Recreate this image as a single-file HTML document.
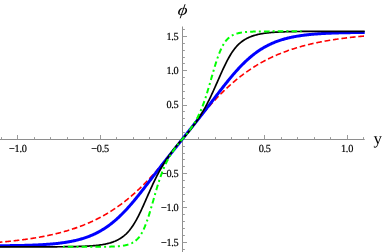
<!DOCTYPE html>
<html><head><meta charset="utf-8"><style>
html,body{margin:0;padding:0;background:#fff;}
body{width:382px;height:252px;overflow:hidden;}
svg{display:block;will-change:transform;}
text{text-rendering:geometricPrecision;}
.tl{font-family:"Liberation Serif",serif;font-size:10.8px;fill:#000;letter-spacing:-0.3px;stroke:#000;stroke-width:0.2px;}
.phi{font-family:"Liberation Serif",serif;font-style:italic;font-size:15.5px;fill:#000;}
.yl{font-family:"Liberation Serif",serif;font-size:17.0px;fill:#000;}
</style></head><body>
<svg width="382" height="252" viewBox="0 0 382 252">
<rect width="382" height="252" fill="#fff"/>
<g shape-rendering="auto">
<line x1="0" y1="139.5" x2="364.7" y2="139.5" stroke="#8e8e8e" stroke-width="1"/>
<line x1="182.5" y1="26.5" x2="182.5" y2="252" stroke="#8e8e8e" stroke-width="1"/>
<line x1="1.5" y1="139.5" x2="1.5" y2="137.1" stroke="#9a9a9a" stroke-width="1"/>
<line x1="17.5" y1="139.5" x2="17.5" y2="135.0" stroke="#9a9a9a" stroke-width="1"/>
<line x1="34.5" y1="139.5" x2="34.5" y2="137.1" stroke="#9a9a9a" stroke-width="1"/>
<line x1="50.5" y1="139.5" x2="50.5" y2="137.1" stroke="#9a9a9a" stroke-width="1"/>
<line x1="67.5" y1="139.5" x2="67.5" y2="137.1" stroke="#9a9a9a" stroke-width="1"/>
<line x1="83.5" y1="139.5" x2="83.5" y2="137.1" stroke="#9a9a9a" stroke-width="1"/>
<line x1="100.5" y1="139.5" x2="100.5" y2="135.0" stroke="#9a9a9a" stroke-width="1"/>
<line x1="116.5" y1="139.5" x2="116.5" y2="137.1" stroke="#9a9a9a" stroke-width="1"/>
<line x1="133.5" y1="139.5" x2="133.5" y2="137.1" stroke="#9a9a9a" stroke-width="1"/>
<line x1="149.5" y1="139.5" x2="149.5" y2="137.1" stroke="#9a9a9a" stroke-width="1"/>
<line x1="166.5" y1="139.5" x2="166.5" y2="137.1" stroke="#9a9a9a" stroke-width="1"/>
<line x1="198.5" y1="139.5" x2="198.5" y2="137.1" stroke="#9a9a9a" stroke-width="1"/>
<line x1="215.5" y1="139.5" x2="215.5" y2="137.1" stroke="#9a9a9a" stroke-width="1"/>
<line x1="231.5" y1="139.5" x2="231.5" y2="137.1" stroke="#9a9a9a" stroke-width="1"/>
<line x1="248.5" y1="139.5" x2="248.5" y2="137.1" stroke="#9a9a9a" stroke-width="1"/>
<line x1="264.5" y1="139.5" x2="264.5" y2="135.0" stroke="#9a9a9a" stroke-width="1"/>
<line x1="281.5" y1="139.5" x2="281.5" y2="137.1" stroke="#9a9a9a" stroke-width="1"/>
<line x1="297.5" y1="139.5" x2="297.5" y2="137.1" stroke="#9a9a9a" stroke-width="1"/>
<line x1="314.5" y1="139.5" x2="314.5" y2="137.1" stroke="#9a9a9a" stroke-width="1"/>
<line x1="330.5" y1="139.5" x2="330.5" y2="137.1" stroke="#9a9a9a" stroke-width="1"/>
<line x1="347.5" y1="139.5" x2="347.5" y2="135.0" stroke="#9a9a9a" stroke-width="1"/>
<line x1="363.5" y1="139.5" x2="363.5" y2="137.1" stroke="#9a9a9a" stroke-width="1"/>
<line x1="182.5" y1="249.5" x2="184.9" y2="249.5" stroke="#9a9a9a" stroke-width="1"/>
<line x1="182.5" y1="242.5" x2="187.0" y2="242.5" stroke="#9a9a9a" stroke-width="1"/>
<line x1="182.5" y1="235.5" x2="184.9" y2="235.5" stroke="#9a9a9a" stroke-width="1"/>
<line x1="182.5" y1="228.5" x2="184.9" y2="228.5" stroke="#9a9a9a" stroke-width="1"/>
<line x1="182.5" y1="221.5" x2="184.9" y2="221.5" stroke="#9a9a9a" stroke-width="1"/>
<line x1="182.5" y1="214.5" x2="184.9" y2="214.5" stroke="#9a9a9a" stroke-width="1"/>
<line x1="182.5" y1="207.5" x2="187.0" y2="207.5" stroke="#9a9a9a" stroke-width="1"/>
<line x1="182.5" y1="201.5" x2="184.9" y2="201.5" stroke="#9a9a9a" stroke-width="1"/>
<line x1="182.5" y1="194.5" x2="184.9" y2="194.5" stroke="#9a9a9a" stroke-width="1"/>
<line x1="182.5" y1="187.5" x2="184.9" y2="187.5" stroke="#9a9a9a" stroke-width="1"/>
<line x1="182.5" y1="180.5" x2="184.9" y2="180.5" stroke="#9a9a9a" stroke-width="1"/>
<line x1="182.5" y1="173.5" x2="187.0" y2="173.5" stroke="#9a9a9a" stroke-width="1"/>
<line x1="182.5" y1="166.5" x2="184.9" y2="166.5" stroke="#9a9a9a" stroke-width="1"/>
<line x1="182.5" y1="159.5" x2="184.9" y2="159.5" stroke="#9a9a9a" stroke-width="1"/>
<line x1="182.5" y1="153.5" x2="184.9" y2="153.5" stroke="#9a9a9a" stroke-width="1"/>
<line x1="182.5" y1="146.5" x2="184.9" y2="146.5" stroke="#9a9a9a" stroke-width="1"/>
<line x1="182.5" y1="132.5" x2="184.9" y2="132.5" stroke="#9a9a9a" stroke-width="1"/>
<line x1="182.5" y1="125.5" x2="184.9" y2="125.5" stroke="#9a9a9a" stroke-width="1"/>
<line x1="182.5" y1="118.5" x2="184.9" y2="118.5" stroke="#9a9a9a" stroke-width="1"/>
<line x1="182.5" y1="111.5" x2="184.9" y2="111.5" stroke="#9a9a9a" stroke-width="1"/>
<line x1="182.5" y1="105.5" x2="187.0" y2="105.5" stroke="#9a9a9a" stroke-width="1"/>
<line x1="182.5" y1="98.5" x2="184.9" y2="98.5" stroke="#9a9a9a" stroke-width="1"/>
<line x1="182.5" y1="91.5" x2="184.9" y2="91.5" stroke="#9a9a9a" stroke-width="1"/>
<line x1="182.5" y1="84.5" x2="184.9" y2="84.5" stroke="#9a9a9a" stroke-width="1"/>
<line x1="182.5" y1="77.5" x2="184.9" y2="77.5" stroke="#9a9a9a" stroke-width="1"/>
<line x1="182.5" y1="70.5" x2="187.0" y2="70.5" stroke="#9a9a9a" stroke-width="1"/>
<line x1="182.5" y1="63.5" x2="184.9" y2="63.5" stroke="#9a9a9a" stroke-width="1"/>
<line x1="182.5" y1="57.5" x2="184.9" y2="57.5" stroke="#9a9a9a" stroke-width="1"/>
<line x1="182.5" y1="50.5" x2="184.9" y2="50.5" stroke="#9a9a9a" stroke-width="1"/>
<line x1="182.5" y1="43.5" x2="184.9" y2="43.5" stroke="#9a9a9a" stroke-width="1"/>
<line x1="182.5" y1="36.5" x2="187.0" y2="36.5" stroke="#9a9a9a" stroke-width="1"/>
<line x1="182.5" y1="29.5" x2="184.9" y2="29.5" stroke="#9a9a9a" stroke-width="1"/>
</g>
<text transform="translate(17.80,151.6) scale(0.95,1)" text-anchor="middle" class="tl">−1.0</text>
<text transform="translate(100.10,151.6) scale(0.95,1)" text-anchor="middle" class="tl">−0.5</text>
<text transform="translate(264.70,151.6) scale(0.95,1)" text-anchor="middle" class="tl">0.5</text>
<text transform="translate(347.00,151.6) scale(0.95,1)" text-anchor="middle" class="tl">1.0</text>
<text transform="translate(178.4,39.70) scale(0.95,1)" text-anchor="end" class="tl">1.5</text>
<text transform="translate(178.4,74.00) scale(0.95,1)" text-anchor="end" class="tl">1.0</text>
<text transform="translate(178.4,108.30) scale(0.95,1)" text-anchor="end" class="tl">0.5</text>
<text transform="translate(178.4,176.90) scale(0.95,1)" text-anchor="end" class="tl">−0.5</text>
<text transform="translate(178.4,211.20) scale(0.95,1)" text-anchor="end" class="tl">−1.0</text>
<text transform="translate(178.4,245.50) scale(0.95,1)" text-anchor="end" class="tl">−1.5</text>
<text transform="translate(182.0,14.8) skewX(-8) scale(1.2,1)" x="0" y="0" text-anchor="middle" class="phi">ϕ</text>
<text x="377.8" y="144.1" text-anchor="middle" class="yl">y</text>
<g fill="none" stroke-linejoin="round">
<path d="M0.00,242.19 L0.73,242.12 L1.46,242.06 L2.19,241.99 L2.92,241.93 L3.65,241.86 L4.39,241.79 L5.12,241.72 L5.85,241.65 L6.58,241.58 L7.31,241.51 L8.04,241.44 L8.77,241.36 L9.50,241.29 L10.23,241.21 L10.96,241.14 L11.69,241.06 L12.42,240.98 L13.16,240.90 L13.89,240.82 L14.62,240.74 L15.35,240.65 L16.08,240.57 L16.81,240.48 L17.54,240.39 L18.27,240.31 L19.00,240.22 L19.73,240.13 L20.46,240.04 L21.19,239.94 L21.93,239.85 L22.66,239.75 L23.39,239.66 L24.12,239.56 L24.85,239.46 L25.58,239.36 L26.31,239.26 L27.04,239.15 L27.77,239.05 L28.50,238.94 L29.23,238.83 L29.97,238.73 L30.70,238.61 L31.43,238.50 L32.16,238.39 L32.89,238.27 L33.62,238.16 L34.35,238.04 L35.08,237.92 L35.81,237.80 L36.54,237.67 L37.27,237.55 L38.00,237.42 L38.74,237.30 L39.47,237.17 L40.20,237.03 L40.93,236.90 L41.66,236.76 L42.39,236.63 L43.12,236.49 L43.85,236.35 L44.58,236.21 L45.31,236.06 L46.04,235.91 L46.78,235.77 L47.51,235.61 L48.24,235.46 L48.97,235.31 L49.70,235.15 L50.43,234.99 L51.16,234.83 L51.89,234.67 L52.62,234.50 L53.35,234.34 L54.08,234.17 L54.81,233.99 L55.55,233.82 L56.28,233.64 L57.01,233.46 L57.74,233.28 L58.47,233.10 L59.20,232.91 L59.93,232.72 L60.66,232.53 L61.39,232.34 L62.12,232.14 L62.85,231.94 L63.58,231.74 L64.32,231.54 L65.05,231.33 L65.78,231.12 L66.51,230.91 L67.24,230.69 L67.97,230.47 L68.70,230.25 L69.43,230.03 L70.16,229.80 L70.89,229.57 L71.62,229.34 L72.36,229.10 L73.09,228.86 L73.82,228.62 L74.55,228.37 L75.28,228.12 L76.01,227.87 L76.74,227.62 L77.47,227.36 L78.20,227.10 L78.93,226.83 L79.66,226.56 L80.39,226.29 L81.13,226.01 L81.86,225.73 L82.59,225.45 L83.32,225.16 L84.05,224.87 L84.78,224.58 L85.51,224.28 L86.24,223.98 L86.97,223.67 L87.70,223.36 L88.43,223.05 L89.17,222.73 L89.90,222.41 L90.63,222.08 L91.36,221.75 L92.09,221.41 L92.82,221.07 L93.55,220.73 L94.28,220.38 L95.01,220.03 L95.74,219.68 L96.47,219.32 L97.20,218.95 L97.94,218.58 L98.67,218.21 L99.40,217.83 L100.13,217.44 L100.86,217.05 L101.59,216.66 L102.32,216.26 L103.05,215.86 L103.78,215.45 L104.51,215.04 L105.24,214.62 L105.97,214.20 L106.71,213.77 L107.44,213.33 L108.17,212.90 L108.90,212.45 L109.63,212.00 L110.36,211.55 L111.09,211.09 L111.82,210.62 L112.55,210.15 L113.28,209.67 L114.01,209.19 L114.75,208.71 L115.48,208.21 L116.21,207.71 L116.94,207.21 L117.67,206.70 L118.40,206.18 L119.13,205.66 L119.86,205.13 L120.59,204.60 L121.32,204.06 L122.05,203.51 L122.78,202.96 L123.52,202.40 L124.25,201.84 L124.98,201.27 L125.71,200.69 L126.44,200.11 L127.17,199.52 L127.90,198.93 L128.63,198.33 L129.36,197.72 L130.09,197.11 L130.82,196.49 L131.56,195.86 L132.29,195.23 L133.02,194.59 L133.75,193.95 L134.48,193.30 L135.21,192.64 L135.94,191.98 L136.67,191.31 L137.40,190.63 L138.13,189.95 L138.86,189.26 L139.59,188.57 L140.33,187.87 L141.06,187.16 L141.79,186.45 L142.52,185.73 L143.25,185.00 L143.98,184.27 L144.71,183.53 L145.44,182.79 L146.17,182.04 L146.90,181.28 L147.63,180.52 L148.36,179.75 L149.10,178.98 L149.83,178.20 L150.56,177.41 L151.29,176.62 L152.02,175.83 L152.75,175.02 L153.48,174.22 L154.21,173.40 L154.94,172.59 L155.67,171.76 L156.40,170.94 L157.14,170.10 L157.87,169.26 L158.60,168.42 L159.33,167.57 L160.06,166.72 L160.79,165.86 L161.52,165.00 L162.25,164.14 L162.98,163.27 L163.71,162.39 L164.44,161.51 L165.17,160.63 L165.91,159.75 L166.64,158.86 L167.37,157.97 L168.10,157.07 L168.83,156.17 L169.56,155.27 L170.29,154.36 L171.02,153.46 L171.75,152.55 L172.48,151.64 L173.21,150.72 L173.95,149.80 L174.68,148.89 L175.41,147.96 L176.14,147.04 L176.87,146.12 L177.60,145.19 L178.33,144.27 L179.06,143.34 L179.79,142.41 L180.52,141.49 L181.25,140.56 L181.98,139.63 L182.72,138.70 L183.45,137.77 L184.18,136.84 L184.91,135.91 L185.64,134.99 L186.37,134.06 L187.10,133.13 L187.83,132.21 L188.56,131.28 L189.29,130.36 L190.02,129.44 L190.75,128.52 L191.49,127.60 L192.22,126.69 L192.95,125.78 L193.68,124.87 L194.41,123.96 L195.14,123.05 L195.87,122.15 L196.60,121.25 L197.33,120.36 L198.06,119.46 L198.79,118.57 L199.53,117.69 L200.26,116.81 L200.99,115.93 L201.72,115.05 L202.45,114.18 L203.18,113.32 L203.91,112.45 L204.64,111.60 L205.37,110.74 L206.10,109.89 L206.83,109.05 L207.56,108.21 L208.30,107.38 L209.03,106.55 L209.76,105.73 L210.49,104.91 L211.22,104.09 L211.95,103.29 L212.68,102.48 L213.41,101.69 L214.14,100.89 L214.87,100.11 L215.60,99.33 L216.34,98.55 L217.07,97.79 L217.80,97.02 L218.53,96.27 L219.26,95.52 L219.99,94.77 L220.72,94.03 L221.45,93.30 L222.18,92.57 L222.91,91.85 L223.64,91.14 L224.37,90.43 L225.11,89.73 L225.84,89.03 L226.57,88.34 L227.30,87.66 L228.03,86.98 L228.76,86.31 L229.49,85.65 L230.22,84.99 L230.95,84.34 L231.68,83.69 L232.41,83.06 L233.14,82.42 L233.88,81.80 L234.61,81.18 L235.34,80.56 L236.07,79.95 L236.80,79.35 L237.53,78.76 L238.26,78.17 L238.99,77.59 L239.72,77.01 L240.45,76.44 L241.18,75.87 L241.92,75.32 L242.65,74.76 L243.38,74.22 L244.11,73.68 L244.84,73.14 L245.57,72.61 L246.30,72.09 L247.03,71.57 L247.76,71.06 L248.49,70.56 L249.22,70.06 L249.95,69.56 L250.69,69.07 L251.42,68.59 L252.15,68.11 L252.88,67.64 L253.61,67.18 L254.34,66.71 L255.07,66.26 L255.80,65.81 L256.53,65.36 L257.26,64.93 L257.99,64.49 L258.73,64.06 L259.46,63.64 L260.19,63.22 L260.92,62.81 L261.65,62.40 L262.38,61.99 L263.11,61.59 L263.84,61.20 L264.57,60.81 L265.30,60.43 L266.03,60.05 L266.76,59.67 L267.50,59.30 L268.23,58.93 L268.96,58.57 L269.69,58.22 L270.42,57.86 L271.15,57.52 L271.88,57.17 L272.61,56.83 L273.34,56.50 L274.07,56.17 L274.80,55.84 L275.53,55.52 L276.27,55.20 L277.00,54.88 L277.73,54.57 L278.46,54.27 L279.19,53.96 L279.92,53.66 L280.65,53.37 L281.38,53.08 L282.11,52.79 L282.84,52.51 L283.57,52.23 L284.31,51.95 L285.04,51.68 L285.77,51.41 L286.50,51.14 L287.23,50.88 L287.96,50.62 L288.69,50.36 L289.42,50.11 L290.15,49.86 L290.88,49.61 L291.61,49.37 L292.34,49.13 L293.08,48.90 L293.81,48.66 L294.54,48.43 L295.27,48.20 L296.00,47.98 L296.73,47.76 L297.46,47.54 L298.19,47.32 L298.92,47.11 L299.65,46.90 L300.38,46.69 L301.12,46.49 L301.85,46.29 L302.58,46.09 L303.31,45.89 L304.04,45.69 L304.77,45.50 L305.50,45.31 L306.23,45.13 L306.96,44.94 L307.69,44.76 L308.42,44.58 L309.15,44.41 L309.89,44.23 L310.62,44.06 L311.35,43.89 L312.08,43.72 L312.81,43.55 L313.54,43.39 L314.27,43.23 L315.00,43.07 L315.73,42.91 L316.46,42.76 L317.19,42.61 L317.92,42.46 L318.66,42.31 L319.39,42.16 L320.12,42.01 L320.85,41.87 L321.58,41.73 L322.31,41.59 L323.04,41.45 L323.77,41.32 L324.50,41.18 L325.23,41.05 L325.96,40.92 L326.70,40.79 L327.43,40.67 L328.16,40.54 L328.89,40.42 L329.62,40.30 L330.35,40.18 L331.08,40.06 L331.81,39.94 L332.54,39.83 L333.27,39.71 L334.00,39.60 L334.73,39.49 L335.47,39.38 L336.20,39.27 L336.93,39.17 L337.66,39.06 L338.39,38.96 L339.12,38.86 L339.85,38.75 L340.58,38.65 L341.31,38.56 L342.04,38.46 L342.77,38.36 L343.51,38.27 L344.24,38.18 L344.97,38.09 L345.70,37.99 L346.43,37.91 L347.16,37.82 L347.89,37.73 L348.62,37.64 L349.35,37.56 L350.08,37.48 L350.81,37.39 L351.54,37.31 L352.28,37.23 L353.01,37.15 L353.74,37.08 L354.47,37.00 L355.20,36.92 L355.93,36.85 L356.66,36.77 L357.39,36.70 L358.12,36.63 L358.85,36.56 L359.58,36.49 L360.31,36.42 L361.05,36.35 L361.78,36.28 L362.51,36.22 L363.24,36.15 L363.97,36.09 L364.70,36.02" stroke="#ff0000" stroke-width="1.6" stroke-dasharray="5.7 2.8" stroke-dashoffset="3.27"/>
<path d="M0.00,245.70 L0.73,245.70 L1.46,245.70 L2.19,245.69 L2.92,245.69 L3.65,245.68 L4.39,245.68 L5.12,245.67 L5.85,245.67 L6.58,245.66 L7.31,245.65 L8.04,245.65 L8.77,245.64 L9.50,245.63 L10.23,245.62 L10.96,245.62 L11.69,245.61 L12.42,245.60 L13.16,245.59 L13.89,245.58 L14.62,245.57 L15.35,245.56 L16.08,245.54 L16.81,245.53 L17.54,245.52 L18.27,245.51 L19.00,245.49 L19.73,245.48 L20.46,245.46 L21.19,245.45 L21.93,245.43 L22.66,245.41 L23.39,245.40 L24.12,245.38 L24.85,245.36 L25.58,245.34 L26.31,245.32 L27.04,245.30 L27.77,245.28 L28.50,245.25 L29.23,245.23 L29.97,245.21 L30.70,245.18 L31.43,245.16 L32.16,245.13 L32.89,245.10 L33.62,245.07 L34.35,245.04 L35.08,245.01 L35.81,244.98 L36.54,244.95 L37.27,244.92 L38.00,244.88 L38.74,244.85 L39.47,244.81 L40.20,244.77 L40.93,244.73 L41.66,244.69 L42.39,244.65 L43.12,244.61 L43.85,244.56 L44.58,244.52 L45.31,244.47 L46.04,244.42 L46.78,244.37 L47.51,244.32 L48.24,244.26 L48.97,244.21 L49.70,244.15 L50.43,244.09 L51.16,244.03 L51.89,243.97 L52.62,243.90 L53.35,243.83 L54.08,243.76 L54.81,243.69 L55.55,243.62 L56.28,243.54 L57.01,243.47 L57.74,243.39 L58.47,243.30 L59.20,243.22 L59.93,243.13 L60.66,243.04 L61.39,242.94 L62.12,242.85 L62.85,242.75 L63.58,242.64 L64.32,242.54 L65.05,242.43 L65.78,242.32 L66.51,242.20 L67.24,242.08 L67.97,241.96 L68.70,241.83 L69.43,241.70 L70.16,241.57 L70.89,241.43 L71.62,241.29 L72.36,241.14 L73.09,240.99 L73.82,240.83 L74.55,240.67 L75.28,240.51 L76.01,240.34 L76.74,240.16 L77.47,239.98 L78.20,239.80 L78.93,239.60 L79.66,239.41 L80.39,239.21 L81.13,239.00 L81.86,238.79 L82.59,238.57 L83.32,238.34 L84.05,238.11 L84.78,237.87 L85.51,237.62 L86.24,237.37 L86.97,237.11 L87.70,236.85 L88.43,236.58 L89.17,236.29 L89.90,236.01 L90.63,235.71 L91.36,235.41 L92.09,235.10 L92.82,234.78 L93.55,234.45 L94.28,234.11 L95.01,233.77 L95.74,233.42 L96.47,233.05 L97.20,232.68 L97.94,232.30 L98.67,231.91 L99.40,231.52 L100.13,231.11 L100.86,230.69 L101.59,230.26 L102.32,229.83 L103.05,229.38 L103.78,228.92 L104.51,228.45 L105.24,227.98 L105.97,227.49 L106.71,226.99 L107.44,226.48 L108.17,225.96 L108.90,225.43 L109.63,224.89 L110.36,224.33 L111.09,223.77 L111.82,223.20 L112.55,222.61 L113.28,222.01 L114.01,221.41 L114.75,220.79 L115.48,220.16 L116.21,219.52 L116.94,218.87 L117.67,218.21 L118.40,217.53 L119.13,216.85 L119.86,216.15 L120.59,215.45 L121.32,214.73 L122.05,214.01 L122.78,213.27 L123.52,212.52 L124.25,211.77 L124.98,211.00 L125.71,210.22 L126.44,209.44 L127.17,208.64 L127.90,207.84 L128.63,207.02 L129.36,206.20 L130.09,205.37 L130.82,204.53 L131.56,203.68 L132.29,202.82 L133.02,201.96 L133.75,201.09 L134.48,200.21 L135.21,199.33 L135.94,198.44 L136.67,197.54 L137.40,196.64 L138.13,195.73 L138.86,194.82 L139.59,193.90 L140.33,192.97 L141.06,192.05 L141.79,191.11 L142.52,190.18 L143.25,189.24 L143.98,188.30 L144.71,187.35 L145.44,186.41 L146.17,185.46 L146.90,184.51 L147.63,183.55 L148.36,182.60 L149.10,181.65 L149.83,180.69 L150.56,179.73 L151.29,178.78 L152.02,177.82 L152.75,176.87 L153.48,175.91 L154.21,174.96 L154.94,174.00 L155.67,173.05 L156.40,172.10 L157.14,171.15 L157.87,170.20 L158.60,169.25 L159.33,168.30 L160.06,167.36 L160.79,166.42 L161.52,165.48 L162.25,164.54 L162.98,163.60 L163.71,162.67 L164.44,161.74 L165.17,160.81 L165.91,159.88 L166.64,158.95 L167.37,158.03 L168.10,157.10 L168.83,156.18 L169.56,155.26 L170.29,154.34 L171.02,153.42 L171.75,152.51 L172.48,151.59 L173.21,150.67 L173.95,149.76 L174.68,148.84 L175.41,147.93 L176.14,147.01 L176.87,146.10 L177.60,145.18 L178.33,144.26 L179.06,143.34 L179.79,142.41 L180.52,141.49 L181.25,140.56 L181.98,139.63 L182.72,138.70 L183.45,137.77 L184.18,136.84 L184.91,135.91 L185.64,134.99 L186.37,134.07 L187.10,133.15 L187.83,132.23 L188.56,131.31 L189.29,130.40 L190.02,129.48 L190.75,128.57 L191.49,127.65 L192.22,126.73 L192.95,125.82 L193.68,124.90 L194.41,123.98 L195.14,123.06 L195.87,122.14 L196.60,121.22 L197.33,120.30 L198.06,119.38 L198.79,118.45 L199.53,117.52 L200.26,116.59 L200.99,115.66 L201.72,114.72 L202.45,113.79 L203.18,112.85 L203.91,111.91 L204.64,110.97 L205.37,110.03 L206.10,109.08 L206.83,108.13 L207.56,107.18 L208.30,106.23 L209.03,105.28 L209.76,104.33 L210.49,103.38 L211.22,102.42 L211.95,101.47 L212.68,100.51 L213.41,99.55 L214.14,98.60 L214.87,97.64 L215.60,96.69 L216.34,95.73 L217.07,94.78 L217.80,93.82 L218.53,92.87 L219.26,91.92 L219.99,90.98 L220.72,90.03 L221.45,89.09 L222.18,88.15 L222.91,87.21 L223.64,86.28 L224.37,85.35 L225.11,84.43 L225.84,83.51 L226.57,82.60 L227.30,81.69 L228.03,80.78 L228.76,79.88 L229.49,78.99 L230.22,78.11 L230.95,77.23 L231.68,76.36 L232.41,75.49 L233.14,74.64 L233.88,73.79 L234.61,72.95 L235.34,72.11 L236.07,71.29 L236.80,70.47 L237.53,69.67 L238.26,68.87 L238.99,68.08 L239.72,67.31 L240.45,66.54 L241.18,65.78 L241.92,65.03 L242.65,64.29 L243.38,63.57 L244.11,62.85 L244.84,62.14 L245.57,61.45 L246.30,60.76 L247.03,60.09 L247.76,59.42 L248.49,58.77 L249.22,58.13 L249.95,57.50 L250.69,56.88 L251.42,56.27 L252.15,55.67 L252.88,55.08 L253.61,54.51 L254.34,53.94 L255.07,53.39 L255.80,52.85 L256.53,52.31 L257.26,51.79 L257.99,51.28 L258.73,50.78 L259.46,50.29 L260.19,49.81 L260.92,49.34 L261.65,48.88 L262.38,48.44 L263.11,48.00 L263.84,47.57 L264.57,47.15 L265.30,46.74 L266.03,46.34 L266.76,45.95 L267.50,45.57 L268.23,45.20 L268.96,44.83 L269.69,44.48 L270.42,44.13 L271.15,43.80 L271.88,43.47 L272.61,43.15 L273.34,42.83 L274.07,42.53 L274.80,42.23 L275.53,41.94 L276.27,41.66 L277.00,41.39 L277.73,41.12 L278.46,40.86 L279.19,40.61 L279.92,40.36 L280.65,40.12 L281.38,39.89 L282.11,39.66 L282.84,39.44 L283.57,39.23 L284.31,39.02 L285.04,38.82 L285.77,38.62 L286.50,38.43 L287.23,38.24 L287.96,38.06 L288.69,37.89 L289.42,37.72 L290.15,37.55 L290.88,37.39 L291.61,37.23 L292.34,37.08 L293.08,36.93 L293.81,36.79 L294.54,36.65 L295.27,36.52 L296.00,36.39 L296.73,36.26 L297.46,36.13 L298.19,36.01 L298.92,35.90 L299.65,35.79 L300.38,35.68 L301.12,35.57 L301.85,35.47 L302.58,35.37 L303.31,35.27 L304.04,35.17 L304.77,35.08 L305.50,34.99 L306.23,34.91 L306.96,34.83 L307.69,34.74 L308.42,34.67 L309.15,34.59 L309.89,34.52 L310.62,34.44 L311.35,34.38 L312.08,34.31 L312.81,34.24 L313.54,34.18 L314.27,34.12 L315.00,34.06 L315.73,34.00 L316.46,33.95 L317.19,33.89 L317.92,33.84 L318.66,33.79 L319.39,33.74 L320.12,33.69 L320.85,33.65 L321.58,33.60 L322.31,33.56 L323.04,33.51 L323.77,33.47 L324.50,33.43 L325.23,33.40 L325.96,33.36 L326.70,33.32 L327.43,33.29 L328.16,33.26 L328.89,33.22 L329.62,33.19 L330.35,33.16 L331.08,33.13 L331.81,33.10 L332.54,33.07 L333.27,33.05 L334.00,33.02 L334.73,33.00 L335.47,32.97 L336.20,32.95 L336.93,32.93 L337.66,32.91 L338.39,32.88 L339.12,32.86 L339.85,32.84 L340.58,32.83 L341.31,32.81 L342.04,32.79 L342.77,32.77 L343.51,32.76 L344.24,32.74 L344.97,32.73 L345.70,32.71 L346.43,32.70 L347.16,32.68 L347.89,32.67 L348.62,32.66 L349.35,32.65 L350.08,32.63 L350.81,32.62 L351.54,32.61 L352.28,32.60 L353.01,32.59 L353.74,32.58 L354.47,32.58 L355.20,32.57 L355.93,32.56 L356.66,32.55 L357.39,32.55 L358.12,32.54 L358.85,32.53 L359.58,32.53 L360.31,32.52 L361.05,32.52 L361.78,32.51 L362.51,32.51 L363.24,32.50 L363.97,32.50 L364.70,32.50" stroke="#0000ff" stroke-width="3.0"/>
<path d="M0.00,246.86 L0.73,246.86 L1.46,246.86 L2.19,246.86 L2.92,246.86 L3.65,246.86 L4.39,246.86 L5.12,246.85 L5.85,246.85 L6.58,246.85 L7.31,246.85 L8.04,246.85 L8.77,246.85 L9.50,246.85 L10.23,246.85 L10.96,246.85 L11.69,246.85 L12.42,246.85 L13.16,246.85 L13.89,246.85 L14.62,246.85 L15.35,246.85 L16.08,246.85 L16.81,246.85 L17.54,246.85 L18.27,246.85 L19.00,246.85 L19.73,246.85 L20.46,246.85 L21.19,246.85 L21.93,246.85 L22.66,246.85 L23.39,246.85 L24.12,246.85 L24.85,246.85 L25.58,246.85 L26.31,246.85 L27.04,246.85 L27.77,246.85 L28.50,246.85 L29.23,246.85 L29.97,246.85 L30.70,246.85 L31.43,246.84 L32.16,246.84 L32.89,246.84 L33.62,246.84 L34.35,246.84 L35.08,246.84 L35.81,246.84 L36.54,246.84 L37.27,246.84 L38.00,246.84 L38.74,246.84 L39.47,246.84 L40.20,246.83 L40.93,246.83 L41.66,246.83 L42.39,246.83 L43.12,246.83 L43.85,246.83 L44.58,246.83 L45.31,246.82 L46.04,246.82 L46.78,246.82 L47.51,246.82 L48.24,246.82 L48.97,246.81 L49.70,246.81 L50.43,246.81 L51.16,246.81 L51.89,246.80 L52.62,246.80 L53.35,246.80 L54.08,246.79 L54.81,246.79 L55.55,246.79 L56.28,246.78 L57.01,246.78 L57.74,246.77 L58.47,246.77 L59.20,246.76 L59.93,246.76 L60.66,246.75 L61.39,246.75 L62.12,246.74 L62.85,246.74 L63.58,246.73 L64.32,246.72 L65.05,246.72 L65.78,246.71 L66.51,246.70 L67.24,246.69 L67.97,246.68 L68.70,246.67 L69.43,246.66 L70.16,246.65 L70.89,246.64 L71.62,246.63 L72.36,246.61 L73.09,246.60 L73.82,246.59 L74.55,246.57 L75.28,246.56 L76.01,246.54 L76.74,246.52 L77.47,246.50 L78.20,246.48 L78.93,246.46 L79.66,246.44 L80.39,246.42 L81.13,246.39 L81.86,246.37 L82.59,246.34 L83.32,246.31 L84.05,246.28 L84.78,246.25 L85.51,246.21 L86.24,246.18 L86.97,246.14 L87.70,246.10 L88.43,246.06 L89.17,246.01 L89.90,245.97 L90.63,245.92 L91.36,245.87 L92.09,245.81 L92.82,245.75 L93.55,245.69 L94.28,245.63 L95.01,245.56 L95.74,245.49 L96.47,245.41 L97.20,245.33 L97.94,245.24 L98.67,245.16 L99.40,245.06 L100.13,244.96 L100.86,244.86 L101.59,244.74 L102.32,244.63 L103.05,244.50 L103.78,244.37 L104.51,244.23 L105.24,244.09 L105.97,243.94 L106.71,243.77 L107.44,243.60 L108.17,243.42 L108.90,243.23 L109.63,243.03 L110.36,242.82 L111.09,242.59 L111.82,242.35 L112.55,242.10 L113.28,241.84 L114.01,241.56 L114.75,241.27 L115.48,240.96 L116.21,240.63 L116.94,240.29 L117.67,239.92 L118.40,239.54 L119.13,239.13 L119.86,238.70 L120.59,238.25 L121.32,237.77 L122.05,237.27 L122.78,236.74 L123.52,236.18 L124.25,235.59 L124.98,234.97 L125.71,234.31 L126.44,233.62 L127.17,232.89 L127.90,232.12 L128.63,231.30 L129.36,230.45 L130.09,229.54 L130.82,228.60 L131.56,227.60 L132.29,226.55 L133.02,225.46 L133.75,224.32 L134.48,223.13 L135.21,221.90 L135.94,220.62 L136.67,219.30 L137.40,217.94 L138.13,216.53 L138.86,215.09 L139.59,213.61 L140.33,212.10 L141.06,210.56 L141.79,208.99 L142.52,207.40 L143.25,205.79 L143.98,204.16 L144.71,202.51 L145.44,200.86 L146.17,199.20 L146.90,197.53 L147.63,195.87 L148.36,194.21 L149.10,192.55 L149.83,190.91 L150.56,189.27 L151.29,187.66 L152.02,186.05 L152.75,184.47 L153.48,182.91 L154.21,181.38 L154.94,179.86 L155.67,178.38 L156.40,176.92 L157.14,175.48 L157.87,174.08 L158.60,172.70 L159.33,171.35 L160.06,170.02 L160.79,168.73 L161.52,167.46 L162.25,166.21 L162.98,164.99 L163.71,163.80 L164.44,162.63 L165.17,161.48 L165.91,160.35 L166.64,159.24 L167.37,158.16 L168.10,157.09 L168.83,156.03 L169.56,155.00 L170.29,153.98 L171.02,152.97 L171.75,151.98 L172.48,151.00 L173.21,150.04 L173.95,149.08 L174.68,148.14 L175.41,147.21 L176.14,146.30 L176.87,145.40 L177.60,144.51 L178.33,143.64 L179.06,142.78 L179.79,141.94 L180.52,141.11 L181.25,140.31 L181.98,139.53 L182.72,138.77 L183.45,138.00 L184.18,137.20 L184.91,136.38 L185.64,135.54 L186.37,134.68 L187.10,133.81 L187.83,132.93 L188.56,132.02 L189.29,131.11 L190.02,130.19 L190.75,129.25 L191.49,128.30 L192.22,127.33 L192.95,126.35 L193.68,125.36 L194.41,124.36 L195.14,123.34 L195.87,122.31 L196.60,121.26 L197.33,120.19 L198.06,119.11 L198.79,118.00 L199.53,116.88 L200.26,115.73 L200.99,114.56 L201.72,113.37 L202.45,112.16 L203.18,110.92 L203.91,109.65 L204.64,108.36 L205.37,107.04 L206.10,105.69 L206.83,104.31 L207.56,102.91 L208.30,101.48 L209.03,100.02 L209.76,98.54 L210.49,97.03 L211.22,95.50 L211.95,93.94 L212.68,92.36 L213.41,90.76 L214.14,89.15 L214.87,87.52 L215.60,85.87 L216.34,84.22 L217.07,82.56 L217.80,80.90 L218.53,79.23 L219.26,77.57 L219.99,75.91 L220.72,74.27 L221.45,72.64 L222.18,71.02 L222.91,69.42 L223.64,67.85 L224.37,66.31 L225.11,64.79 L225.84,63.31 L226.57,61.86 L227.30,60.45 L228.03,59.08 L228.76,57.76 L229.49,56.47 L230.22,55.23 L230.95,54.04 L231.68,52.89 L232.41,51.79 L233.14,50.74 L233.88,49.74 L234.61,48.78 L235.34,47.87 L236.07,47.01 L236.80,46.19 L237.53,45.42 L238.26,44.68 L238.99,43.98 L239.72,43.32 L240.45,42.69 L241.18,42.10 L241.92,41.53 L242.65,41.00 L243.38,40.49 L244.11,40.01 L244.84,39.56 L245.57,39.13 L246.30,38.72 L247.03,38.33 L247.76,37.96 L248.49,37.61 L249.22,37.29 L249.95,36.97 L250.69,36.68 L251.42,36.40 L252.15,36.13 L252.88,35.88 L253.61,35.64 L254.34,35.41 L255.07,35.20 L255.80,35.00 L256.53,34.80 L257.26,34.62 L257.99,34.45 L258.73,34.29 L259.46,34.13 L260.19,33.99 L260.92,33.85 L261.65,33.71 L262.38,33.59 L263.11,33.47 L263.84,33.36 L264.57,33.25 L265.30,33.15 L266.03,33.06 L266.76,32.97 L267.50,32.88 L268.23,32.80 L268.96,32.72 L269.69,32.65 L270.42,32.58 L271.15,32.52 L271.88,32.46 L272.61,32.40 L273.34,32.34 L274.07,32.29 L274.80,32.24 L275.53,32.19 L276.27,32.15 L277.00,32.11 L277.73,32.06 L278.46,32.03 L279.19,31.99 L279.92,31.96 L280.65,31.92 L281.38,31.89 L282.11,31.87 L282.84,31.84 L283.57,31.81 L284.31,31.79 L285.04,31.76 L285.77,31.74 L286.50,31.72 L287.23,31.70 L287.96,31.68 L288.69,31.66 L289.42,31.65 L290.15,31.63 L290.88,31.62 L291.61,31.60 L292.34,31.59 L293.08,31.58 L293.81,31.56 L294.54,31.55 L295.27,31.54 L296.00,31.53 L296.73,31.52 L297.46,31.51 L298.19,31.50 L298.92,31.49 L299.65,31.49 L300.38,31.48 L301.12,31.47 L301.85,31.46 L302.58,31.46 L303.31,31.45 L304.04,31.45 L304.77,31.44 L305.50,31.44 L306.23,31.43 L306.96,31.43 L307.69,31.42 L308.42,31.42 L309.15,31.41 L309.89,31.41 L310.62,31.41 L311.35,31.40 L312.08,31.40 L312.81,31.40 L313.54,31.39 L314.27,31.39 L315.00,31.39 L315.73,31.39 L316.46,31.38 L317.19,31.38 L317.92,31.38 L318.66,31.38 L319.39,31.38 L320.12,31.37 L320.85,31.37 L321.58,31.37 L322.31,31.37 L323.04,31.37 L323.77,31.37 L324.50,31.37 L325.23,31.36 L325.96,31.36 L326.70,31.36 L327.43,31.36 L328.16,31.36 L328.89,31.36 L329.62,31.36 L330.35,31.36 L331.08,31.36 L331.81,31.36 L332.54,31.36 L333.27,31.36 L334.00,31.35 L334.73,31.35 L335.47,31.35 L336.20,31.35 L336.93,31.35 L337.66,31.35 L338.39,31.35 L339.12,31.35 L339.85,31.35 L340.58,31.35 L341.31,31.35 L342.04,31.35 L342.77,31.35 L343.51,31.35 L344.24,31.35 L344.97,31.35 L345.70,31.35 L346.43,31.35 L347.16,31.35 L347.89,31.35 L348.62,31.35 L349.35,31.35 L350.08,31.35 L350.81,31.35 L351.54,31.35 L352.28,31.35 L353.01,31.35 L353.74,31.35 L354.47,31.35 L355.20,31.35 L355.93,31.35 L356.66,31.35 L357.39,31.35 L358.12,31.35 L358.85,31.35 L359.58,31.35 L360.31,31.34 L361.05,31.34 L361.78,31.34 L362.51,31.34 L363.24,31.34 L363.97,31.34 L364.70,31.34" stroke="#000" stroke-width="1.7"/>
<path d="M63.00,246.86 L63.60,246.86 L64.20,246.86 L64.79,246.86 L65.39,246.86 L65.99,246.86 L66.59,246.86 L67.19,246.86 L67.78,246.86 L68.38,246.86 L68.98,246.86 L69.58,246.86 L70.18,246.86 L70.77,246.86 L71.37,246.86 L71.97,246.86 L72.57,246.86 L73.17,246.85 L73.76,246.85 L74.36,246.85 L74.96,246.85 L75.56,246.85 L76.16,246.85 L76.75,246.85 L77.35,246.85 L77.95,246.85 L78.55,246.85 L79.15,246.85 L79.74,246.85 L80.34,246.85 L80.94,246.85 L81.54,246.85 L82.14,246.85 L82.73,246.85 L83.33,246.85 L83.93,246.85 L84.53,246.85 L85.13,246.85 L85.72,246.85 L86.32,246.85 L86.92,246.85 L87.52,246.85 L88.12,246.84 L88.71,246.84 L89.31,246.84 L89.91,246.84 L90.51,246.84 L91.11,246.84 L91.70,246.84 L92.30,246.84 L92.90,246.83 L93.50,246.83 L94.10,246.83 L94.69,246.83 L95.29,246.83 L95.89,246.82 L96.49,246.82 L97.09,246.82 L97.68,246.81 L98.28,246.81 L98.88,246.81 L99.48,246.80 L100.08,246.80 L100.67,246.79 L101.27,246.79 L101.87,246.78 L102.47,246.78 L103.07,246.77 L103.66,246.76 L104.26,246.76 L104.86,246.75 L105.46,246.74 L106.06,246.73 L106.65,246.72 L107.25,246.71 L107.85,246.70 L108.45,246.68 L109.05,246.67 L109.64,246.65 L110.24,246.64 L110.84,246.62 L111.44,246.60 L112.04,246.58 L112.63,246.56 L113.23,246.53 L113.83,246.50 L114.43,246.48 L115.03,246.44 L115.62,246.41 L116.22,246.37 L116.82,246.33 L117.42,246.29 L118.02,246.25 L118.61,246.20 L119.21,246.14 L119.81,246.08 L120.41,246.02 L121.01,245.95 L121.60,245.88 L122.20,245.80 L122.80,245.71 L123.40,245.62 L124.00,245.51 L124.59,245.40 L125.19,245.29 L125.79,245.16 L126.39,245.02 L126.99,244.87 L127.58,244.70 L128.18,244.53 L128.78,244.34 L129.38,244.13 L129.98,243.91 L130.57,243.67 L131.17,243.41 L131.77,243.13 L132.37,242.82 L132.97,242.49 L133.56,242.13 L134.16,241.75 L134.76,241.33 L135.36,240.88 L135.96,240.39 L136.55,239.86 L137.15,239.29 L137.75,238.67 L138.35,238.00 L138.95,237.28 L139.54,236.50 L140.14,235.66 L140.74,234.75 L141.34,233.78 L141.94,232.73 L142.53,231.61 L143.13,230.42 L143.73,229.16 L144.33,227.82 L144.93,226.41 L145.52,224.93 L146.12,223.37 L146.72,221.74 L147.32,220.05 L147.92,218.29 L148.51,216.47 L149.11,214.59 L149.71,212.67 L150.31,210.70 L150.91,208.69 L151.50,206.65 L152.10,204.58 L152.70,202.50 L153.30,200.41 L153.90,198.31 L154.49,196.22 L155.09,194.14 L155.69,192.08 L156.29,190.04 L156.89,188.04 L157.48,186.06 L158.08,184.13 L158.68,182.24 L159.28,180.39 L159.88,178.60 L160.47,176.85 L161.07,175.16 L161.67,173.53 L162.27,171.94 L162.87,170.42 L163.46,168.94 L164.06,167.52 L164.66,166.15 L165.26,164.83 L165.86,163.55 L166.45,162.33 L167.05,161.14 L167.65,160.00 L168.25,158.89 L168.85,157.82 L169.44,156.78 L170.04,155.78 L170.64,154.80 L171.24,153.84 L171.84,152.91 L172.43,152.00 L173.03,151.10 L173.63,150.23 L174.23,149.37 L174.83,148.52 L175.42,147.69 L176.02,146.87 L176.62,146.06 L177.22,145.27 L177.82,144.48 L178.41,143.72 L179.01,142.96 L179.61,142.23 L180.21,141.51 L180.81,140.82 L181.40,140.15 L182.00,139.51 L182.60,138.90 L183.20,138.27 L183.79,137.61 L184.39,136.92 L184.99,136.22 L185.59,135.49 L186.19,134.74 L186.78,133.97 L187.38,133.20 L187.98,132.41 L188.58,131.60 L189.18,130.79 L189.77,129.96 L190.37,129.12 L190.97,128.26 L191.57,127.39 L192.17,126.50 L192.76,125.60 L193.36,124.67 L193.96,123.73 L194.56,122.76 L195.16,121.76 L195.75,120.73 L196.35,119.67 L196.95,118.58 L197.55,117.45 L198.15,116.27 L198.74,115.06 L199.34,113.80 L199.94,112.50 L200.54,111.14 L201.14,109.74 L201.73,108.28 L202.33,106.77 L202.93,105.21 L203.53,103.59 L204.13,101.92 L204.72,100.19 L205.32,98.41 L205.92,96.58 L206.52,94.71 L207.12,92.79 L207.71,90.83 L208.31,88.83 L208.91,86.80 L209.51,84.75 L210.11,82.67 L210.70,80.59 L211.30,78.49 L211.90,76.40 L212.50,74.31 L213.10,72.24 L213.69,70.19 L214.29,68.17 L214.89,66.19 L215.49,64.25 L216.09,62.35 L216.68,60.52 L217.28,58.73 L217.88,57.02 L218.48,55.37 L219.08,53.79 L219.67,52.28 L220.27,50.84 L220.87,49.48 L221.47,48.19 L222.07,46.98 L222.66,45.84 L223.26,44.77 L223.86,43.77 L224.46,42.84 L225.06,41.97 L225.65,41.17 L226.25,40.43 L226.85,39.75 L227.45,39.11 L228.05,38.53 L228.64,37.98 L229.24,37.48 L229.84,37.02 L230.44,36.59 L231.04,36.19 L231.63,35.83 L232.23,35.49 L232.83,35.17 L233.43,34.88 L234.03,34.62 L234.62,34.37 L235.22,34.14 L235.82,33.93 L236.42,33.73 L237.02,33.55 L237.61,33.39 L238.21,33.23 L238.81,33.09 L239.41,32.96 L240.01,32.83 L240.60,32.72 L241.20,32.62 L241.80,32.52 L242.40,32.43 L243.00,32.35 L243.59,32.27 L244.19,32.20 L244.79,32.14 L245.39,32.08 L245.99,32.02 L246.58,31.97 L247.18,31.92 L247.78,31.88 L248.38,31.84 L248.98,31.80 L249.57,31.77 L250.17,31.73 L250.77,31.71 L251.37,31.68 L251.97,31.65 L252.56,31.63 L253.16,31.61 L253.76,31.59 L254.36,31.57 L254.96,31.55 L255.55,31.54 L256.15,31.52 L256.75,31.51 L257.35,31.50 L257.95,31.48 L258.54,31.47 L259.14,31.46 L259.74,31.45 L260.34,31.45 L260.94,31.44 L261.53,31.43 L262.13,31.42 L262.73,31.42 L263.33,31.41 L263.93,31.41 L264.52,31.40 L265.12,31.40 L265.72,31.39 L266.32,31.39 L266.92,31.39 L267.51,31.38 L268.11,31.38 L268.71,31.38 L269.31,31.37 L269.91,31.37 L270.50,31.37 L271.10,31.37 L271.70,31.37 L272.30,31.36 L272.90,31.36 L273.49,31.36 L274.09,31.36 L274.69,31.36 L275.29,31.36 L275.89,31.36 L276.48,31.36 L277.08,31.35 L277.68,31.35 L278.28,31.35 L278.88,31.35 L279.47,31.35 L280.07,31.35 L280.67,31.35 L281.27,31.35 L281.87,31.35 L282.46,31.35 L283.06,31.35 L283.66,31.35 L284.26,31.35 L284.86,31.35 L285.45,31.35 L286.05,31.35 L286.65,31.35 L287.25,31.35 L287.85,31.35 L288.44,31.35 L289.04,31.35 L289.64,31.35 L290.24,31.35 L290.84,31.35 L291.43,31.35 L292.03,31.34 L292.63,31.34 L293.23,31.34 L293.83,31.34 L294.42,31.34 L295.02,31.34 L295.62,31.34 L296.22,31.34 L296.82,31.34 L297.41,31.34 L298.01,31.34 L298.61,31.34 L299.21,31.34 L299.81,31.34 L300.40,31.34 L301.00,31.34 L301.60,31.34" stroke="#00ff00" stroke-width="2.0" stroke-dasharray="5.6 3.1 2 3.1" stroke-dashoffset="9.0"/>
</g>
</svg>
</body></html>
